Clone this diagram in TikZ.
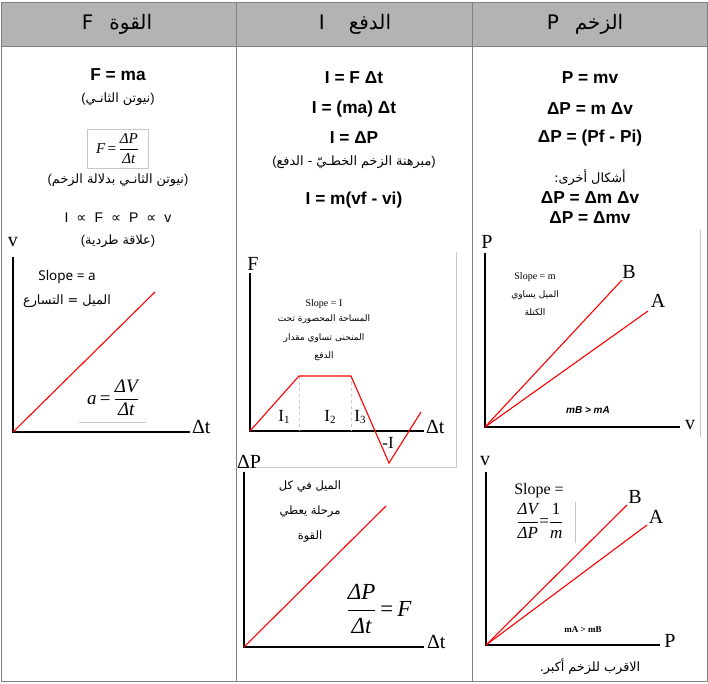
\documentclass[tikz,border=0pt]{standalone}
\usepackage{amsmath}
\usepackage{fontspec}
\setmainfont{Liberation Sans}
\newfontfamily\serif{Liberation Serif}
\newfontfamily\dv{DejaVu Sans}
\newfontfamily\ar[Script=Arabic]{DejaVu Sans}
\newfontfamily\noto{Noto Sans}
\TeXXeTstate=1
\definecolor{tablegray}{RGB}{128,128,128}
\definecolor{headgray}{RGB}{179,179,179}
\definecolor{lightline}{RGB}{200,200,200}
\newcommand{\fr}[2]{$\genfrac{}{}{0.7pt}{0}{\text{#1}}{\text{#2}}$}
\newcommand{\sub}[1]{\raisebox{-2.5pt}{\fontsize{11}{11}\selectfont #1}}
\newcommand{\AR}[1]{{\ar\beginR #1\endR}}
\begin{document}
\begin{tikzpicture}[x=1pt,y=-1pt,
  every node/.style={inner sep=0pt, outer sep=0pt, align=center},
  tline/.style={draw=tablegray, line width=1pt},
  axis/.style={line width=2.6pt},
  redl/.style={draw=red, line width=1.1pt},
  eq/.style={font=\fontsize{17.3}{19}\selectfont\bfseries},
  arsm/.style={font=\fontsize{12.8}{15}\selectfont},
  arxs/.style={font=\fontsize{9}{11}\selectfont},
  lbl/.style={font=\serif\fontsize{20}{22}\selectfont},
  head/.style={font=\fontsize{20}{22}\selectfont},
  thinl/.style={draw=lightline, line width=0.8pt},
]
\useasboundingbox (0,0) rectangle (708,683);
% table
\fill[headgray] (1,2) rectangle (707,46);
\draw[tline] (1,2) rectangle (707,681);
\draw[tline] (1,46) -- (707,46);
\coordinate (c1t) at (236,2); \coordinate (c1b) at (236,681);
\coordinate (c2t) at (472,2); \coordinate (c2b) at (472,681);
\draw[tline] (c1t) -- (c1b);
\draw[tline] (c2t) -- (c2b);
% headers
\node[head] (h1) at (117,24) {{\dv F}\hspace{16pt}\AR{القوة}};
\node[head] (h2) at (355,24) {{\dv I}\hspace{24pt}\AR{الدفع}};
\node[head] (h3) at (585,24) {{\dv P}\hspace{16pt}\AR{الزخم}};

% ---------- column 1
\node[eq] (fma) at (118,75) {F = ma};
\node[arsm] (n2) at (118,99) {(\AR{نيوتن الثانـي})};
\node[draw=lightline, line width=0.8pt, minimum width=61pt, minimum height=39pt,
  font=\serif\fontsize{15}{17}\selectfont\itshape] (fdp) at (117.5,148.5) {F\,\upshape=\,\itshape\fr{ΔP}{Δt}};
\node[arsm] (n2p) at (118,180) {(\AR{نيوتن الثانـي بدلالة الزخم})};
\node[font=\fontsize{14}{16}\selectfont] (prop) at (118,218) {I\hspace{8pt}{\dv ∝}\hspace{8pt}F\hspace{8pt}{\dv ∝}\hspace{8pt}P\hspace{8pt}{\dv ∝}\hspace{8pt}v};
\node[arsm] (rel) at (118,241) {(\AR{علاقة طردية})};
% graph v-t
\node[lbl] (v1) at (13,242) {v};
\coordinate (y1) at (13,257);
\coordinate (o1) at (13,432);
\coordinate (x1) at (190,432);
\draw[axis] (y1) -- (o1) -- (x1);
\node[lbl, anchor=west] (t1) at (192,427) {Δt};
\coordinate (r1) at (155,292);
\draw[redl] (o1) -- (r1);
\node[font=\noto\fontsize{13.5}{15}\selectfont] (sl1) at (67,277) {Slope = a};
\node[arsm] (mt) at (67,301) {\AR{الميل = التسارع}};
\node[font=\serif\fontsize{19}{21}\selectfont\itshape] (af) at (113,398) {a\,\upshape=\,\itshape\fr{ΔV}{Δt}};
\coordinate (g1a) at (79,422); \coordinate (g1b) at (146,422);
\draw[thinl] (g1a) -- (g1b);

% ---------- column 2
\node[eq] (i1) at (354,78) {I = F Δt};
\node[eq] (i2) at (354,109) {I = (ma) Δt};
\node[eq] (i3) at (354,138) {I = ΔP};
\node[arsm] (thm) at (354,162) {(\AR{مبرهنة الزخم الخطـيّ - الدفع})};
\node[eq] (i4) at (354,200) {I = m(vf - vi)};
% F-t graph frame
\coordinate (fr1) at (456,252); \coordinate (fr2) at (456,467); \coordinate (fr3) at (236,467);
\draw[thinl] (fr1) -- (fr2) -- (fr3);
\node[lbl] (F2) at (253,264) {F};
\coordinate (y2) at (250,273);
\coordinate (o2) at (250,431);
\coordinate (x2) at (424,431);
\draw[axis] (y2) -- (o2) -- (x2);
\node[lbl, anchor=west] (t2) at (426,427) {Δt};
\coordinate (p1) at (299,376); \coordinate (p2) at (351,376);
\coordinate (p3) at (389,463); \coordinate (p4) at (421,412);
\coordinate (d1) at (299,431); \coordinate (d2) at (351,431);
\draw[draw=lightline, dashed, line width=0.8pt] (p1) -- (d1) (p2) -- (d2);
\draw[redl] (o2) -- (p1) -- (p2) -- (p3) -- (p4);
\node[font=\serif\fontsize{17}{19}\selectfont] (I1) at (284,417) {I\sub{1}};
\node[font=\serif\fontsize{17}{19}\selectfont] (I2) at (330,417) {I\sub{2}};
\node[font=\serif\fontsize{17}{19}\selectfont] (I3) at (360,417) {I\sub{3}};
\node[font=\serif\fontsize{17}{19}\selectfont] (mI) at (388,443) {-I};
\node[font=\serif\fontsize{10}{12}\selectfont] (sl2) at (324,304) {Slope = I};
\node[arxs] (a21) at (324,319) {\AR{المساحة المحصورة تحت}};
\node[arxs] (a22) at (324,338) {\AR{المنحنى تساوي مقدار}};
\node[arxs] (a23) at (324,356) {\AR{الدفع}};
% dP-t graph
\node[lbl] (dP) at (249,462) {ΔP};
\coordinate (y3) at (244,472);
\coordinate (o3) at (244,647);
\coordinate (x3) at (424,647);
\draw[axis] (y3) -- (o3) -- (x3);
\node[lbl, anchor=west] (t3) at (427,642) {Δt};
\coordinate (r3) at (386,506);
\draw[redl] (o3) -- (r3);
\node[font=\fontsize{11.5}{13}\selectfont] (a31) at (310,487) {\AR{الميل في كل}};
\node[font=\fontsize{11.5}{13}\selectfont] (a32) at (310,512) {\AR{مرحلة يعطي}};
\node[font=\fontsize{11.5}{13}\selectfont] (a33) at (310,537) {\AR{القوة}};
\node[font=\serif\fontsize{23}{25}\selectfont\itshape] (ff) at (379,609) {\fr{ΔP}{Δt}\,\upshape=\,\itshape F};

% ---------- column 3
\node[eq] (p1e) at (590,78) {P = mv};
\node[eq] (p2e) at (590,109) {ΔP = m Δv};
\node[eq] (p3e) at (590,138) {ΔP = (Pf - Pi)};
\node[arsm] (oth) at (590,178) {\AR{أشكال أخرى:}};
\node[eq] (p4e) at (590,198) {ΔP = Δm Δv};
\node[eq] (p5e) at (590,218) {ΔP = Δmv};
% P-v graph
\coordinate (fr4) at (700,230); \coordinate (fr5) at (700,437);
\draw[thinl] (fr4) -- (fr5);
\node[lbl] (P4) at (487,242) {P};
\coordinate (y4) at (485,253);
\coordinate (o4) at (485,427);
\coordinate (x4) at (680,427);
\draw[axis] (y4) -- (o4) -- (x4);
\node[lbl] (v4) at (690,425) {v};
\coordinate (b4) at (622,280); \coordinate (a4) at (648,311);
\draw[redl] (o4) -- (b4);
\draw[redl] (o4) -- (a4);
\node[lbl] (B4) at (629,272) {B};
\node[lbl] (A4) at (658,301) {A};
\node[font=\serif\fontsize{10}{12}\selectfont] (sl4) at (535,277) {Slope = m};
\node[arxs] (a41) at (535,295) {\AR{الميل يساوي}};
\node[arxs] (a42) at (535,312) {\AR{الكتلة}};
\node[font=\fontsize{10}{12}\selectfont\bfseries\itshape] (mba) at (588,410) {mB > mA};
% v-P graph
\node[lbl] (v5) at (485,461) {v};
\coordinate (y5) at (486,472);
\coordinate (o5) at (486,645);
\coordinate (x5) at (660,645);
\draw[axis] (y5) -- (o5) -- (x5);
\node[lbl] (P5) at (670,641) {P};
\coordinate (b5) at (627,505); \coordinate (a5) at (647,525);
\draw[redl] (o5) -- (b5);
\draw[redl] (o5) -- (a5);
\node[lbl] (B5) at (635,497) {B};
\node[lbl] (A5) at (656,517) {A};
\node[font=\serif\fontsize{16}{18}\selectfont] (sl5) at (539,491) {Slope =};
\node[font=\serif\fontsize{17}{19}\selectfont\itshape] (vf5) at (540,521) {\fr{ΔV}{ΔP}\upshape=\fr{1}{\itshape m}};
\coordinate (gv1) at (575,502); \coordinate (gv2) at (575,543);
\draw[thinl] (gv1) -- (gv2);
\node[font=\serif\fontsize{9}{11}\selectfont\bfseries] (mab) at (583,630) {mA > mB};
\node[arsm] (cl) at (590,667) {\AR{الاقرب للزخم أكبر.}};
\end{tikzpicture}
\end{document}
